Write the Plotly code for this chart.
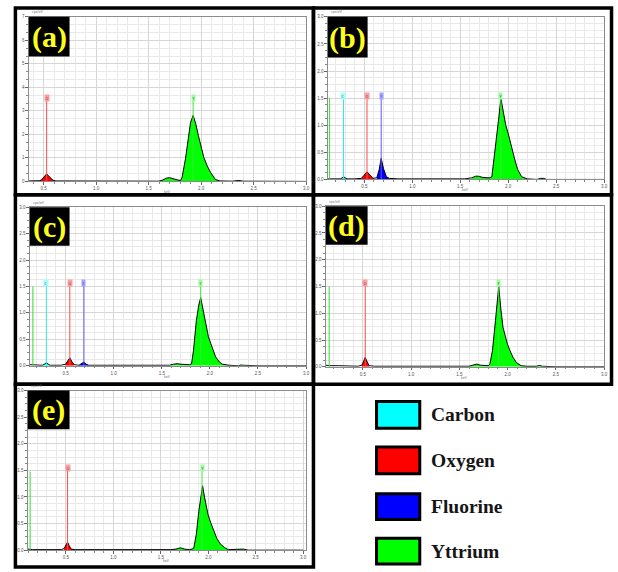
import plotly.graph_objects as go

W, H = 618, 572

# ---------------- data ----------------
elements = ["Carbon", "Oxygen", "Fluorine", "Yttrium"]
symbols = ["C", "O", "F", "Y"]
fill_colors = ["#00ffff", "#ff0000", "#0000ff", "#00ff00"]
marker_line_colors = ["#30e8e8", "#ff4a4a", "#5a5aff", "#3ce83c"]
tag_colors = ["#a6ffff", "#ff9e9e", "#a4a4ff", "#9cff9c"]
peak_windows = [(0.24, 0.35), (0.46, 0.61), (0.61, 0.76), (1.57, 2.45)]

panel_labels = ["(a)", "(b)", "(c)", "(d)", "(e)"]

energy_a = [0.36, 0.42, 0.46, 0.48, 0.50, 0.53, 0.56, 0.59, 0.62, 0.70, 0.80, 0.95,
            1.10, 1.30, 1.50, 1.60, 1.63, 1.67, 1.70, 1.74, 1.78, 1.805, 1.82, 1.852,
            1.877, 1.90, 1.925, 1.95, 1.975, 1.995, 2.026, 2.06, 2.09, 2.137, 2.18,
            2.30, 2.34, 2.36, 2.40, 2.60, 2.80, 3.00]
counts_a = [0.02, 0.02, 0.03, 0.06, 0.16, 0.32, 0.18, 0.05, 0.02, 0.02, 0.01, 0.01,
            0.01, 0.01, 0.01, 0.01, 0.05, 0.14, 0.16, 0.10, 0.06, 0.04, 0.18, 0.96,
            1.80, 2.50, 2.81, 2.45, 1.95, 1.59, 1.03, 0.65, 0.39, 0.08, 0.02,
            0.01, 0.04, 0.04, 0.01, 0.0, 0.0, 0.0]

energy_b = [0.12, 0.15, 0.20, 0.25, 0.27, 0.285, 0.30, 0.32, 0.40, 0.47, 0.50, 0.528,
            0.56, 0.59, 0.63, 0.655, 0.676, 0.70, 0.73, 0.76, 0.85, 1.00, 1.20, 1.40,
            1.55, 1.62, 1.66, 1.69, 1.73, 1.78, 1.81, 1.83, 1.855, 1.88, 1.905, 1.924,
            1.95, 1.975, 2.00, 2.035, 2.07, 2.10, 2.14, 2.20, 2.30, 2.34, 2.37, 2.40,
            2.60, 3.00]
counts_b = [0.01, 0.01, 0.01, 0.01, 0.03, 0.05, 0.03, 0.01, 0.01, 0.02, 0.08, 0.14,
            0.08, 0.02, 0.03, 0.18, 0.39, 0.20, 0.05, 0.02, 0.01, 0.01, 0.01, 0.0,
            0.01, 0.03, 0.06, 0.06, 0.04, 0.03, 0.03, 0.05, 0.40, 0.78, 1.18, 1.50,
            1.22, 1.00, 0.85, 0.58, 0.36, 0.18, 0.05, 0.01, 0.0, 0.02, 0.02, 0.0,
            0.0, 0.0]

energy_c = [0.13, 0.20, 0.26, 0.28, 0.30, 0.32, 0.34, 0.45, 0.50, 0.525, 0.544, 0.565,
            0.59, 0.64, 0.665, 0.69, 0.715, 0.74, 0.80, 1.00, 1.20, 1.40, 1.58, 1.62,
            1.66, 1.70, 1.75, 1.79, 1.81, 1.83, 1.86, 1.885, 1.905, 1.93, 1.96, 1.985,
            2.01, 2.035, 2.06, 2.10, 2.13, 2.20, 2.30, 2.32, 2.35, 2.50, 3.00]
counts_c = [0.02, 0.01, 0.01, 0.03, 0.06, 0.03, 0.01, 0.01, 0.03, 0.10, 0.15, 0.08,
            0.02, 0.01, 0.04, 0.07, 0.03, 0.01, 0.01, 0.01, 0.0, 0.0, 0.01, 0.03,
            0.04, 0.03, 0.02, 0.02, 0.04, 0.29, 0.86, 1.15, 1.29, 1.05, 0.73, 0.55,
            0.42, 0.28, 0.17, 0.07, 0.03, 0.01, 0.0, 0.015, 0.01, 0.0, 0.0]

energy_d = [0.116, 0.15, 0.25, 0.35, 0.45, 0.49, 0.505, 0.524, 0.545, 0.565, 0.62, 0.80,
            1.00, 1.20, 1.40, 1.60, 1.64, 1.68, 1.72, 1.76, 1.80, 1.816, 1.843, 1.874,
            1.89, 1.908, 1.93, 1.952, 1.975, 1.997, 2.025, 2.055, 2.09, 2.14, 2.20,
            2.30, 2.33, 2.36, 2.50, 3.00]
counts_d = [0.03, 0.02, 0.02, 0.01, 0.01, 0.03, 0.10, 0.175, 0.09, 0.02, 0.01, 0.01,
            0.01, 0.0, 0.0, 0.01, 0.03, 0.05, 0.03, 0.02, 0.02, 0.05, 0.30, 0.86,
            1.20, 1.50, 1.08, 0.74, 0.58, 0.43, 0.30, 0.18, 0.08, 0.02, 0.01,
            0.01, 0.025, 0.01, 0.0, 0.0]

energy_e = [0.098, 0.15, 0.30, 0.45, 0.48, 0.50, 0.517, 0.535, 0.555, 0.60, 0.80, 1.00,
            1.30, 1.60, 1.66, 1.706, 1.75, 1.80, 1.846, 1.874, 1.90, 1.92, 1.94, 1.96,
            1.98, 1.997, 2.025, 2.056, 2.09, 2.126, 2.17, 2.21, 2.30, 2.37, 2.42, 3.00]
counts_e = [0.02, 0.01, 0.01, 0.01, 0.03, 0.09, 0.15, 0.08, 0.02, 0.01, 0.01, 0.0,
            0.0, 0.01, 0.02, 0.045, 0.02, 0.01, 0.03, 0.30, 0.73, 1.00, 1.21, 1.00,
            0.78, 0.67, 0.52, 0.37, 0.22, 0.12, 0.05, 0.01, 0.01, 0.02, 0.0, 0.0]

marker_syms_a = ["O", "Y"]
marker_e_a = [0.53, 1.925]
marker_syms_b = ["C", "O", "F", "Y"]
marker_e_b = [0.283, 0.528, 0.676, 1.924]
marker_syms_c = ["C", "O", "F", "Y"]
marker_e_c = [0.30, 0.544, 0.69, 1.905]
marker_syms_d = ["O", "Y"]
marker_e_d = [0.524, 1.908]
marker_syms_e = ["O", "Y"]
marker_e_e = [0.517, 1.934]
marker_tops = [3.55, 1.54, 1.56, 1.56, 1.55]

noise_e = [None, 0.138, 0.16, 0.15, 0.122]
noise_h = [None, 1.5, 1.5, 1.5, 1.48]

x_ranges = [(0.36, 3.0), (0.12, 3.0), (0.128, 3.0), (0.116, 3.0), (0.098, 3.03)]
y_max = [7, 3, 3, 3, 3]
y_dtick = [1, 0.5, 0.5, 0.5, 0.5]
y_minor = [1 / 3, 0.125, 0.125, 0.125, 0.125]
y_fmt = ["d", ".1f", ".1f", ".1f", ".1f"]

spectra = [(energy_a, counts_a), (energy_b, counts_b), (energy_c, counts_c),
           (energy_d, counts_d), (energy_e, counts_e)]
markers = [(marker_syms_a, marker_e_a), (marker_syms_b, marker_e_b),
           (marker_syms_c, marker_e_c), (marker_syms_d, marker_e_d),
           (marker_syms_e, marker_e_e)]

# ---------------- layout geometry (pixels) ----------------
plot_boxes = [(29, 15, 308, 181), (330, 15, 608, 179), (30, 207, 308, 367),
              (328, 206, 608, 368), (28, 392, 308, 553)]
frame_boxes = [(15.5, 6, 315.5, 194.5), (315.5, 6, 615.5, 194.5),
               (15.5, 194.5, 315.5, 385.5), (315.5, 194.5, 615.5, 385.5),
               (15.5, 385.5, 315.5, 570)]
label_boxes = [(29, 15, 70, 55), (330, 15, 370, 56), (30, 207, 70, 246),
               (328, 206, 370, 245), (28, 392, 70, 431)]


def px(x):
    return x / W


def py(y):
    return 1 - y / H


fig = go.Figure()
layout = dict(width=W, height=H, margin=dict(l=0, r=0, t=0, b=0),
              paper_bgcolor="white", plot_bgcolor="white", showlegend=False)
shapes = []
annotations = []

TICKFONT = dict(size=4.5, color="#555555", family="Liberation Sans")

for i in range(5):
    xid = "x" if i == 0 else f"x{i + 1}"
    yid = "y" if i == 0 else f"y{i + 1}"
    xkey = "xaxis" if i == 0 else f"xaxis{i + 1}"
    ykey = "yaxis" if i == 0 else f"yaxis{i + 1}"
    x0, y0, x1, y1 = plot_boxes[i]

    layout[xkey] = dict(
        domain=[px(x0), px(x1)], range=list(x_ranges[i]), anchor=yid,
        tick0=0, dtick=0.5, tickformat=".1f", ticks="outside", ticklen=2.5,
        tickwidth=1, tickcolor="#666", tickfont=TICKFONT,
        showgrid=True, gridcolor="#d6d6d6", gridwidth=1,
        minor=dict(tick0=0, dtick=0.1, showgrid=True, gridcolor="#e9e9e9",
                   ticks="outside", ticklen=1.5, tickcolor="#888"),
        showline=True, linecolor="#8c8c8c", linewidth=1, mirror=True,
        zeroline=False, fixedrange=True)
    layout[ykey] = dict(
        domain=[py(y1), py(y0)], range=[0, y_max[i]], anchor=xid,
        tick0=0, dtick=y_dtick[i], tickformat=y_fmt[i], ticks="outside",
        ticklen=2.5, tickwidth=1, tickcolor="#666", tickfont=TICKFONT,
        showgrid=True, gridcolor="#d6d6d6", gridwidth=1,
        minor=dict(tick0=0, dtick=y_minor[i], showgrid=True, gridcolor="#e9e9e9",
                   ticks="outside", ticklen=1.5, tickcolor="#888"),
        showline=True, linecolor="#8c8c8c", linewidth=1, mirror=True,
        zeroline=False, fixedrange=True)

    energy, counts = spectra[i]
    # coloured peak fills
    for k, (lo, hi) in enumerate(peak_windows):
        sel = [(e, c) for e, c in zip(energy, counts) if lo <= e <= hi]
        if not sel or max(c for _, c in sel) < 0.025:
            continue
        fig.add_trace(go.Scatter(
            x=[e for e, _ in sel], y=[c for _, c in sel], xaxis=xid, yaxis=yid,
            mode="lines", line=dict(width=0, color=fill_colors[k]),
            fill="tozeroy", fillcolor=fill_colors[k], hoverinfo="skip"))
    # spectrum outline
    fig.add_trace(go.Scatter(
        x=energy, y=counts, xaxis=xid, yaxis=yid, mode="lines",
        line=dict(color="black", width=1), hoverinfo="skip"))
    # left noise spike
    if noise_e[i] is not None:
        fig.add_trace(go.Scatter(
            x=[noise_e[i], noise_e[i]], y=[0, noise_h[i]], xaxis=xid, yaxis=yid,
            mode="lines", line=dict(color="#2ee02e", width=1), hoverinfo="skip"))
    # element marker lines + tags
    syms, es = markers[i]
    for s, e in zip(syms, es):
        k = symbols.index(s)
        fig.add_trace(go.Scatter(
            x=[e, e], y=[0, marker_tops[i]], xaxis=xid, yaxis=yid,
            mode="lines", line=dict(color=marker_line_colors[k], width=1),
            hoverinfo="skip"))
        annotations.append(dict(
            x=e, y=marker_tops[i], xref=xid, yref=yid, text=s, showarrow=False,
            font=dict(size=3.5, color="#444"), bgcolor=tag_colors[k],
            borderpad=0.6, xanchor="center", yanchor="middle"))

    # panel frame
    fx0, fy0, fx1, fy1 = frame_boxes[i]
    shapes.append(dict(type="rect", xref="paper", yref="paper",
                       x0=px(fx0), x1=px(fx1), y0=py(fy1), y1=py(fy0),
                       line=dict(color="black", width=3.5), layer="above"))
    # label box
    lx0, ly0, lx1, ly1 = label_boxes[i]
    shapes.append(dict(type="rect", xref="paper", yref="paper",
                       x0=px(lx0), x1=px(lx1), y0=py(ly1), y1=py(ly0),
                       line=dict(width=0), fillcolor="black", layer="above"))
    annotations.append(dict(
        x=px((lx0 + lx1) / 2), y=py((ly0 + ly1) / 2 + 0.5), xref="paper", yref="paper",
        text=f"<b>{panel_labels[i]}</b>", showarrow=False,
        font=dict(family="Liberation Serif", size=30, color="#ffff1a"),
        xanchor="center", yanchor="middle"))
    # small axis titles
    annotations.append(dict(
        x=px(x0 + 1), y=py(y0 - 0.5), xref="paper", yref="paper", text="cps/eV",
        showarrow=False, font=dict(size=3.5, color="#666"),
        xanchor="left", yanchor="bottom"))
    annotations.append(dict(
        x=px((x0 + x1) / 2), y=py(y1 + 6), xref="paper", yref="paper", text="keV",
        showarrow=False, font=dict(size=3.5, color="#666"),
        xanchor="center", yanchor="top"))

# ---------------- element key ----------------
key_rows = [(402, 431), (448, 477), (495, 523), (540, 568)]
for k, name in enumerate(elements):
    ry0, ry1 = key_rows[k]
    shapes.append(dict(type="rect", xref="paper", yref="paper",
                       x0=px(379), x1=px(422.5), y0=py(ry1 - 1), y1=py(ry0 + 1),
                       line=dict(color="black", width=3), fillcolor=fill_colors[k],
                       layer="above"))
    annotations.append(dict(
        x=px(432), y=py((ry0 + ry1) / 2), xref="paper", yref="paper",
        text=f"<b>{name}</b>", showarrow=False,
        font=dict(family="Liberation Serif", size=19.5, color="#151515"),
        xanchor="left", yanchor="middle"))

layout["shapes"] = shapes
layout["annotations"] = annotations
fig.update_layout(**layout)
fig.write_html(
    "out.html",
    config={"displayModeBar": False, "displaylogo": False},
    post_script="document.body.style.margin='0';document.body.style.padding='0';"
                "document.body.style.overflow='hidden';")
